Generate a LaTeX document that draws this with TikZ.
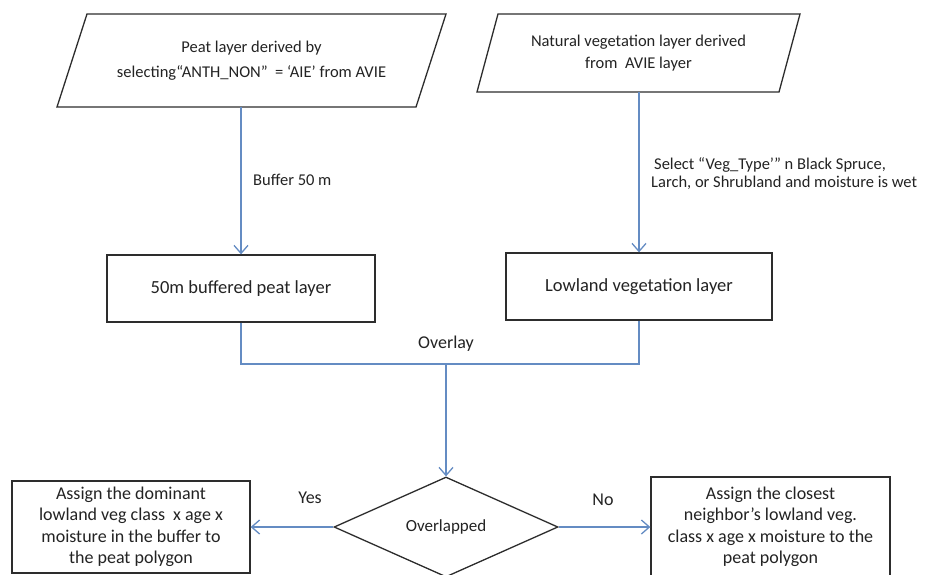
\documentclass[tikz,border=0pt]{standalone}
\usepackage{fontspec}
\setmainfont{Carlito}
\usetikzlibrary{shapes.geometric,arrows.meta}
\definecolor{lnblue}{RGB}{100,140,195}
\definecolor{txt}{RGB}{35,35,35}
\definecolor{edge}{RGB}{45,45,45}
\tikzset{
  conn/.style={draw=lnblue, line width=1.3pt},
  arr/.style={conn, -{Straight Barb[length=8pt,width=14pt]}},
  box/.style={draw=edge, line width=1.3pt, rectangle, inner sep=0pt, align=center, text=txt},
  para/.style={draw=edge, line width=1.3pt, line join=miter},
  ptext/.style={inner sep=0pt, align=center, text=txt, font=\fontsize{16.5}{25}\selectfont},
  lab/.style={inner sep=0pt, text=txt},
}
\begin{document}
\begin{tikzpicture}[x=1pt,y=-1pt]
\clip (0,0) rectangle (926,574);
\fill[white] (0,0) rectangle (926,574);
% input parallelograms
\draw[para] (87,14) -- (446,14) -- (416,107) -- (57,107) -- cycle;
\node[ptext, minimum height=93pt] (p1) at (251.5,60.5) {Peat layer derived by\\selecting“ANTH\_NON”\ \ = ‘AIE’ from AVIE};
\draw[para] (498,14) -- (800,14) -- (779,92) -- (477,92) -- cycle;
\node[ptext, font=\fontsize{16.5}{22}\selectfont, minimum height=78pt] (p2) at (638.5,53) {Natural vegetation layer derived\\from\ \ AVIE layer};
% layer boxes
\node[box, minimum width=268pt, minimum height=67pt, font=\fontsize{18.5}{22}\selectfont] (b1) at (241,288.5) {50m buffered peat layer};
\node[box, minimum width=266pt, minimum height=67pt, font=\fontsize{18.5}{22}\selectfont] (b2) at (639,286.5) {Lowland vegetation layer};
\draw[arr] (b1.north |- p1.south) -- (b1.north);
\draw[arr] (b2.north |- p2.south) -- (b2.north);
\node[lab, anchor=west, font=\fontsize{16.5}{20}\selectfont] (l1) at (253,180) {Buffer 50 m};
\node[lab, anchor=west, align=left, font=\fontsize{16.5}{18}\selectfont] (l2) at (651,173.5) {\hspace*{3pt}Select “Veg\_Type’” n Black Spruce,\\Larch, or Shrubland and moisture is wet};
% overlay
\coordinate (ov) at (446,364);
\draw[conn] (b1.south) |- (ov);
\draw[conn] (b2.south) |- (ov);
\node[lab, font=\fontsize{18}{20}\selectfont] (l3) at (446,344) {Overlay};
\node[diamond, draw=edge, line width=1.3pt, aspect=2.24, minimum width=224pt, minimum height=100pt, inner sep=0pt, text=txt, font=\fontsize{17}{20}\selectfont] (d) at (446,527) {Overlapped};
\draw[arr] (ov) -- (d.north);
% outcomes
\node[box, minimum width=238pt, minimum height=92pt, font=\fontsize{18}{21.5}\selectfont] (yb) at (131,527) {Assign the dominant\\lowland veg class\ \ x age x\\moisture in the buffer to\\the peat polygon};
\node[box, minimum width=239pt, minimum height=100pt, font=\fontsize{18}{21.5}\selectfont] (nb) at (770.5,527) {Assign the closest\\neighbor’s lowland veg.\\class x age x moisture to the\\peat polygon};
\draw[arr] (d.west) -- (yb.east);
\draw[arr] (d.east) -- (nb.west);
\node[lab, font=\fontsize{18}{20}\selectfont] (l4) at (310,498) {Yes};
\node[lab, font=\fontsize{18}{20}\selectfont] (l5) at (603,500) {No};
\end{tikzpicture}
\end{document}
